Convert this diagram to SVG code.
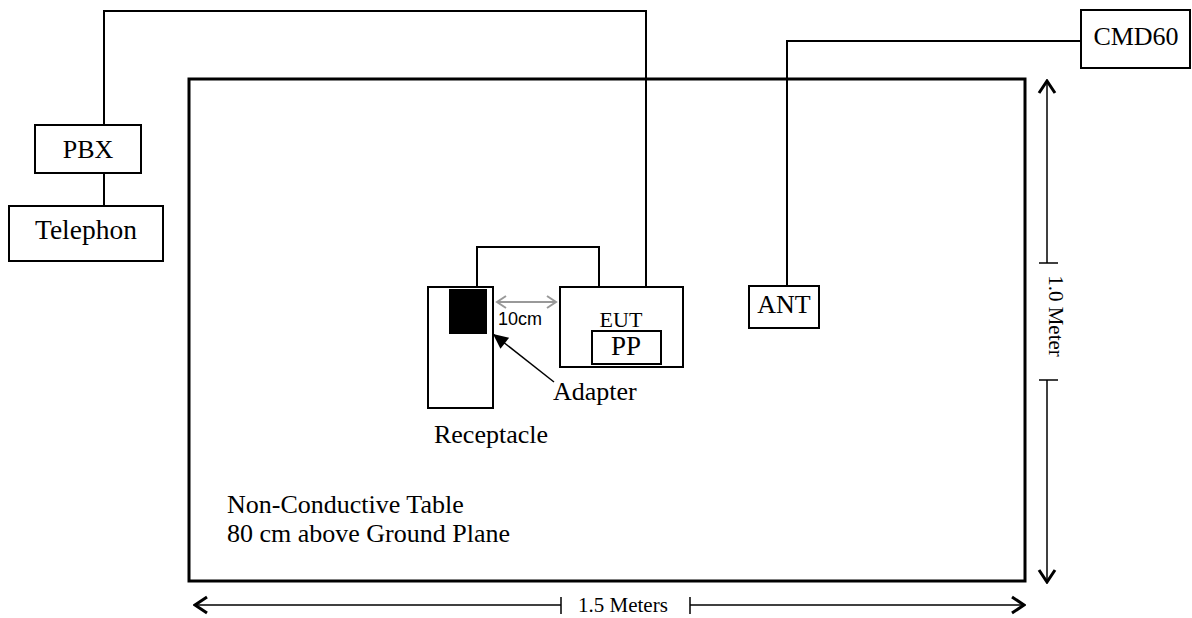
<svg xmlns="http://www.w3.org/2000/svg" width="1192" height="618" viewBox="0 0 1192 618">
<defs>
<style>
.box{fill:#fff;stroke:#000;stroke-width:2}
.wire{fill:none;stroke:#000;stroke-width:2}
.lbl{font-family:"Liberation Serif","Times New Roman",serif;font-size:26px;fill:#000}
.dim{font-family:"Liberation Serif","Times New Roman",serif;font-size:21px;fill:#000}
.dline{stroke:#000;stroke-width:1.5;fill:none}
</style>
<marker id="chev" viewBox="-14 -10 16 20" refX="0" refY="0" markerWidth="16" markerHeight="20" markerUnits="userSpaceOnUse" orient="auto-start-reverse">
<path d="M-12,-8 L0,0 L-12,8" fill="none" stroke="#000" stroke-width="3"/>
</marker>
<marker id="gray" viewBox="-10 -7 12 14" refX="0" refY="0" markerWidth="12" markerHeight="14" markerUnits="userSpaceOnUse" orient="auto-start-reverse">
<path d="M-9,-6 L0,0 L-9,6" fill="none" stroke="#999" stroke-width="2"/>
</marker>
<marker id="tri" viewBox="-16 -8 17 16" refX="0" refY="0" markerWidth="17" markerHeight="16" markerUnits="userSpaceOnUse" orient="auto">
<path d="M0,0 L-15,-7 L-15,7 Z" fill="#000"/>
</marker>
</defs>
<rect width="1192" height="618" fill="#fff"/>
<g id="table">
<rect x="189" y="79" width="836" height="502" fill="none" stroke="#000" stroke-width="3"/>
<text class="lbl" x="227" y="513">Non-Conductive Table</text>
<text class="lbl" x="227" y="542">80 cm above Ground Plane</text>
</g>
<g id="connectors">
<polyline class="wire" points="104,125 104,11 646,11 646,287"/>
<line class="wire" x1="104" y1="173" x2="104" y2="206"/>
<polyline class="wire" points="1081,41 787,41 787,286"/>
<polyline class="wire" points="477,287 477,247 599,247 599,287"/>
<line x1="497" y1="302" x2="556" y2="302" stroke="#999" stroke-width="2" marker-start="url(#gray)" marker-end="url(#gray)"/>
<line x1="554" y1="382" x2="493" y2="334" stroke="#000" stroke-width="1.5" marker-end="url(#tri)"/>
</g>
<g id="pbx">
<rect class="box" x="35" y="125" width="106" height="48"/>
<text class="lbl" x="88" y="158" text-anchor="middle">PBX</text>
</g>
<g id="telephon">
<rect class="box" x="9" y="206" width="154" height="55"/>
<text class="lbl" x="86" y="239" text-anchor="middle" style="font-size:27.5px">Telephon</text>
</g>
<g id="cmd60">
<rect class="box" x="1081" y="10" width="109" height="58"/>
<text class="lbl" x="1136" y="45" text-anchor="middle">CMD60</text>
</g>
<g id="ant">
<rect class="box" x="749" y="286" width="70" height="42"/>
<text class="lbl" x="784" y="313" text-anchor="middle">ANT</text>
</g>
<g id="receptacle">
<rect class="box" x="428" y="287" width="65" height="121"/>
<rect x="449" y="289" width="38" height="45" fill="#000"/>
<text class="lbl" x="491" y="443" text-anchor="middle">Receptacle</text>
</g>
<g id="eut">
<rect class="box" x="560" y="287" width="123" height="80"/>
<text class="lbl" x="621" y="327" text-anchor="middle" style="font-size:22px">EUT</text>
<rect class="box" x="592" y="331" width="69" height="33"/>
<text class="lbl" x="626" y="355" text-anchor="middle" style="font-size:27px">PP</text>
</g>
<g id="adapter">
<text class="lbl" x="553" y="400">Adapter</text>
</g>
<g id="dist10">
<text x="498" y="325" style="font-family:'Liberation Sans',Arial,sans-serif;font-size:18px">10cm</text>
</g>
<g id="dim-vertical">
<line class="dline" x1="1047" y1="263" x2="1047" y2="81" marker-end="url(#chev)"/>
<line class="dline" x1="1047" y1="380" x2="1047" y2="582" marker-end="url(#chev)"/>
<line class="dline" x1="1039" y1="263" x2="1058" y2="263"/>
<line class="dline" x1="1039" y1="380" x2="1058" y2="380"/>
<text class="dim" transform="translate(1049,316) rotate(90)" text-anchor="middle">1.0 Meter</text>
</g>
<g id="dim-horizontal">
<line class="dline" x1="561" y1="605" x2="195" y2="605" marker-end="url(#chev)"/>
<line class="dline" x1="690" y1="605" x2="1024" y2="605" marker-end="url(#chev)"/>
<line class="dline" x1="561" y1="597" x2="561" y2="614"/>
<line class="dline" x1="690" y1="597" x2="690" y2="614"/>
<text class="dim" x="578" y="612">1.5 Meters</text>
</g>
</svg>
